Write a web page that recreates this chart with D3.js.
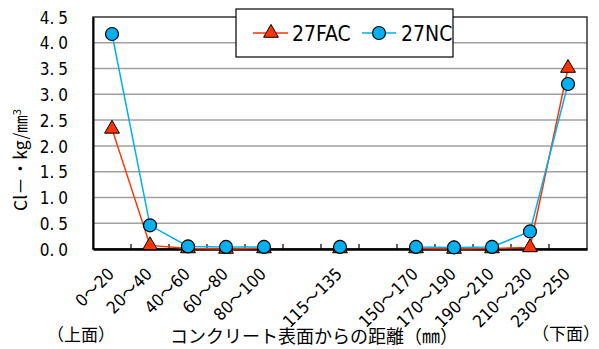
<!DOCTYPE html>
<html><head><meta charset="utf-8">
<script src="https://cdn.jsdelivr.net/npm/d3@7"></script>
<style>
body{margin:0;background:#fff;}
svg{display:block;}
text{font-family:"Liberation Sans Narrow","DejaVu Sans Condensed","Noto Sans CJK JP",sans-serif;fill:#000;}
.jp{font-family:"Noto Sans CJK JP",sans-serif;}
</style></head><body>
<svg id="c" width="599" height="349"></svg>
<script>
const categories = ["0～20","20～40","40～60","60～80","80～100","","115～135","","150～170","170～190","190～210","210～230","230～250"];
const fac = [2.33, 0.07, 0.01, 0.0, 0.01, null, 0.01, null, 0.01, 0.0, 0.01, 0.03, 3.51];
const nc  = [4.17, 0.46, 0.05, 0.04, 0.04, null, 0.04, null, 0.04, 0.03, 0.04, 0.34, 3.20];
const yTicks = [0,0.5,1,1.5,2,2.5,3,3.5,4,4.5];
const seriesNames = ["27FAC","27NC"];

const svg = d3.select("#c");
const L=93, R=587, T=17, B=249;
const x = d3.scaleBand().domain(d3.range(categories.length)).range([L,R]);
const y = d3.scaleLinear().domain([0,4.5]).range([B,T]);

// gridlines
svg.append("g").selectAll("line").data(yTicks.slice(1,-1)).join("line")
  .attr("x1",L).attr("x2",R).attr("y1",d=>y(d)).attr("y2",d=>y(d))
  .attr("stroke","#a0a0a0").attr("stroke-width",1.5);

// plot border
svg.append("rect").attr("x",L).attr("y",T).attr("width",R-L).attr("height",B-T)
  .attr("fill","none").attr("stroke","#333").attr("stroke-width",1.5);

// y axis
const ya = svg.append("g").attr("transform",`translate(${L},0)`)
  .call(d3.axisLeft(y).tickValues(yTicks).tickSize(0).tickPadding(25).tickFormat(d3.format(".1f")));
ya.select(".domain").attr("stroke","#000").attr("stroke-width",2);
ya.selectAll(".tick text").attr("font-size",17).attr("dy","0.36em").attr("font-family",null)
  .each(function(d){
    const s = d3.format(".1f")(d).split(".");
    const t = d3.select(this).text(null);
    t.append("tspan").text(s[0]+".");
    t.append("tspan").attr("dx",4).text(s[1]);
  });

// x axis
const xa = svg.append("g").attr("transform",`translate(0,${B})`)
  .call(d3.axisBottom(x).tickSize(0).tickFormat(i=>categories[i]));
xa.select(".domain").attr("stroke","#000").attr("stroke-width",2.5);
xa.selectAll("text").attr("font-size",17).attr("font-family","Noto Sans CJK JP")
  .attr("text-anchor","end")
  .attr("transform","translate(-1,22) rotate(-45)")
  .attr("dy","0.35em").attr("y",0);

// inward ticks at category boundaries
svg.append("g").selectAll("line").data(d3.range(1,categories.length)).join("line")
  .attr("x1",i=>x(i)).attr("x2",i=>x(i)).attr("y1",B).attr("y2",B-5)
  .attr("stroke","#000").attr("stroke-width",1.2);

const cx = i=>x(i)+x.bandwidth()/2;
const line = d3.line().defined(d=>d!==null).x((d,i)=>cx(i)).y(d=>y(d));

const red="#ff3300", blue="#00b0f0";
svg.append("path").datum(fac).attr("d",line).attr("fill","none").attr("stroke",red).attr("stroke-width",1.5);
svg.append("path").datum(nc).attr("d",line).attr("fill","none").attr("stroke",blue).attr("stroke-width",1.5);

const tri = d3.symbol().type(d3.symbolTriangle).size(95);
svg.append("g").selectAll("path").data(fac.map((v,i)=>({v,i})).filter(d=>d.v!==null)).join("path")
  .attr("d",tri).attr("transform",d=>`translate(${cx(d.i)},${y(d.v)})`)
  .attr("fill",red).attr("stroke","#000").attr("stroke-width",1);
svg.append("g").selectAll("circle").data(nc.map((v,i)=>({v,i})).filter(d=>d.v!==null)).join("circle")
  .attr("cx",d=>cx(d.i)).attr("cy",d=>y(d.v)).attr("r",6.5)
  .attr("fill",blue).attr("stroke","#000").attr("stroke-width",1.2);

// legend
const lg = svg.append("g");
lg.append("rect").attr("x",236).attr("y",9).attr("width",217).attr("height",48)
  .attr("fill","#fff").attr("stroke","#000").attr("stroke-width",1.2);
lg.append("line").attr("x1",253).attr("x2",288).attr("y1",33).attr("y2",33).attr("stroke",red).attr("stroke-width",1.5);
lg.append("path").attr("d",tri).attr("transform","translate(271,33)").attr("fill",red).attr("stroke","#000");
lg.append("text").attr("x",292).attr("y",33).attr("dy","0.36em").attr("font-size",21).text(seriesNames[0]);
lg.append("line").attr("x1",362).attr("x2",396).attr("y1",33).attr("y2",33).attr("stroke",blue).attr("stroke-width",1.5);
lg.append("circle").attr("cx",379).attr("cy",33).attr("r",6.5).attr("fill",blue).attr("stroke","#000").attr("stroke-width",1.2);
lg.append("text").attr("x",401).attr("y",33).attr("dy","0.36em").attr("font-size",21).text(seriesNames[1]);

// titles
svg.append("text").attr("class","jp").attr("transform","translate(27,160) rotate(-90)")
  .attr("text-anchor","middle").attr("font-size",17.5)
  .html('Cl－・kg/㎜<tspan dy="-6" font-size="11">3</tspan>');
svg.append("text").attr("class","jp").attr("x",314).attr("y",343).attr("text-anchor","middle")
  .attr("font-size",18).text("コンクリート表面からの距離（㎜）");
svg.append("text").attr("class","jp").attr("x",81).attr("y",341).attr("text-anchor","middle")
  .attr("font-size",17).text("（上面）");
svg.append("text").attr("class","jp").attr("x",566).attr("y",340).attr("text-anchor","middle")
  .attr("font-size",17).text("（下面）");
</script></body></html>
